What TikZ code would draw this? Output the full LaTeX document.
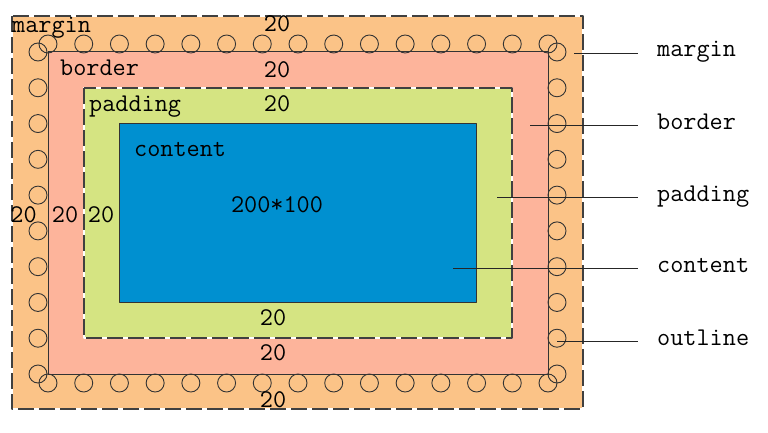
\documentclass[tikz,border=0pt]{standalone}
\usepackage{fontspec}
\usetikzlibrary{positioning}
\definecolor{marginc}{HTML}{FBC387}
\definecolor{borderc}{HTML}{FDB49B}
\definecolor{paddingc}{HTML}{D5E482}
\definecolor{contentc}{HTML}{0090D0}
\newcommand{\boxfont}{\fontsize{25.5}{27}\selectfont\ttfamily}
\tikzset{
	boxlabel/.style={inner sep=0pt,anchor=base west},
	sizelabel/.style={inner sep=0pt,anchor=base},
	sidelabel/.style={inner xsep=19pt,inner ysep=0pt,anchor=base west},
	ring/.style={draw=black!80,line width=0.9pt},
	edge/.style={draw=black!80,line width=1pt},
	gapdash/.style={draw=black!75,line width=1.3pt,dash pattern=on 16pt off 5pt},
	pointer/.style={draw=black!85,line width=0.9pt},
}
\begin{document}
\begin{tikzpicture}[x=1pt,y=-1pt,line join=round,font=\boxfont]
	\useasboundingbox (0,0) rectangle (768,433);
	
	% boxes
	\fill[marginc] (12,16) rectangle (583,409);
	\draw[white,line width=1.3pt] (12,16) rectangle (583,409);
	\draw[gapdash] (12,16) rectangle (583,409);
	\fill[borderc] (48,52) rectangle (548,374);
	\draw[edge] (48,52) rectangle (548,374);
	\fill[paddingc] (84,88) rectangle (512,338);
	\draw[white,line width=1.3pt] (84,88) rectangle (512,338);
	\draw[gapdash] (84,88) rectangle (512,338);
	\fill[contentc] (119,124) rectangle (476,302);
	\draw[edge] (119,124) rectangle (476,302);
	
	% outline
	\foreach \i in {0,...,14}{
		\draw[ring] (48+\i*35.714,44) circle[radius=9pt];
		\draw[ring] (48+\i*35.714,383) circle[radius=9pt];
	}
	\foreach \i in {0,...,9}{
		\draw[ring] (38,52+\i*35.778) circle[radius=9pt];
		\draw[ring] (557,52+\i*35.778) circle[radius=9pt];
	}
	
	\node[boxlabel] (tmargin) at (12,33) {margin};
	\node[boxlabel] (tborder) at (60,76) {border};
	\node[boxlabel] (tpadding) at (89,112) {padding};
	\node[boxlabel] (tcontent) at (134,157) {content};
	\node[sizelabel] (tsize) at (277,212) {200*100};
	\foreach \n/\x/\y in {mt/277/32,bt/277/78,pt/277/112,pb/273/325,bb/273/360,mb/273/407,ml/23.5/222,bl/65/222,pl/101/222}
		\node[sizelabel] (w\n) at (\x,\y) {20};
	
	\foreach \n/\x/\y in {margin/574/53,border/530/125,padding/497/197,content/453/268,outline/557/341}{
		\node[sidelabel] (l\n) at (638,\y+4) {\n};
		\coordinate (p\n) at (\x,\y);
		\draw[pointer] (p\n) -- (p\n -| l\n.west);
	}
\end{tikzpicture}
\end{document}
